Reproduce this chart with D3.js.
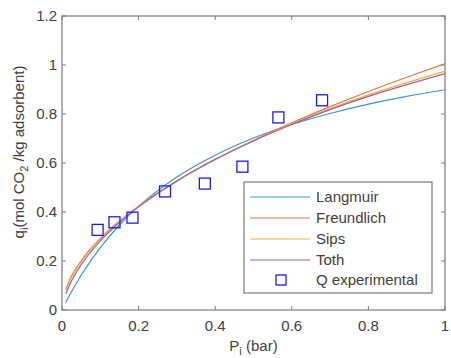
<!DOCTYPE html>
<html>
<head>
<meta charset="utf-8">
<script src="https://cdn.jsdelivr.net/npm/d3@7"></script>
<style>
  body { margin: 0; background: #fff; }
  svg text { font-family: "Liberation Sans", Arial, sans-serif; fill: #404040; }
</style>
</head>
<body>
<div id="chart"></div>
<script>
// values
const pressure = [0.01, 0.02, 0.05, 0.1, 0.15, 0.2, 0.3, 0.4, 0.5, 0.6, 0.7, 0.8, 0.9, 1.0]
const langmuir = [0.031, 0.061, 0.142, 0.255, 0.347, 0.423, 0.543, 0.632, 0.702, 0.757, 0.802, 0.840, 0.872, 0.899]
const freundlich = [0.085, 0.123, 0.201, 0.292, 0.363, 0.424, 0.526, 0.614, 0.693, 0.764, 0.830, 0.892, 0.950, 1.005]
const sips = [0.080, 0.118, 0.197, 0.289, 0.361, 0.423, 0.526, 0.614, 0.691, 0.760, 0.822, 0.878, 0.928, 0.975]
const toth = [0.065, 0.103, 0.185, 0.282, 0.357, 0.421, 0.527, 0.615, 0.690, 0.757, 0.818, 0.872, 0.920, 0.965]

const expP = [0.093, 0.137, 0.184, 0.269, 0.373, 0.471, 0.565, 0.679]
const expQ = [0.327, 0.358, 0.377, 0.484, 0.516, 0.585, 0.786, 0.856]

const xTicks = [0, 0.2, 0.4, 0.6, 0.8, 1]
const yTicks = [0, 0.2, 0.4, 0.6, 0.8, 1, 1.2]

const series = [
  {name: "Langmuir", values: langmuir, color: "#3b95d4"},
  {name: "Freundlich", values: freundlich, color: "#e27550"},
  {name: "Sips", values: sips, color: "#efb12c"},
  {name: "Toth", values: toth, color: "#9a5fae"}
]

const width = 451, height = 358
const margin = {left: 62, right: 6, top: 16, bottom: 48}
const fs = 15

const svg = d3.select("#chart").append("svg").attr("width", width).attr("height", height)

const x = d3.scaleLinear().domain([0, 1]).range([margin.left, width - margin.right])
const y = d3.scaleLinear().domain([0, 1.2]).range([height - margin.bottom, margin.top])

const axisColor = "#7a7a7a"

// box
svg.append("rect")
  .attr("x", x(0)).attr("y", y(1.2))
  .attr("width", x(1) - x(0)).attr("height", y(0) - y(1.2))
  .attr("fill", "none").attr("stroke", axisColor).attr("stroke-width", 1.2)

// ticks on all sides, inward
const tickLen = 4
xTicks.forEach(t => {
  svg.append("line").attr("x1", x(t)).attr("x2", x(t)).attr("y1", y(0)).attr("y2", y(0) - tickLen).attr("stroke", axisColor)
  svg.append("line").attr("x1", x(t)).attr("x2", x(t)).attr("y1", y(1.2)).attr("y2", y(1.2) + tickLen).attr("stroke", axisColor)
  svg.append("text").attr("x", x(t)).attr("y", y(0) + 21)
    .attr("text-anchor", "middle").attr("font-size", fs).text(d3.format("~g")(t))
})
yTicks.forEach(t => {
  svg.append("line").attr("y1", y(t)).attr("y2", y(t)).attr("x1", x(0)).attr("x2", x(0) + tickLen).attr("stroke", axisColor)
  svg.append("line").attr("y1", y(t)).attr("y2", y(t)).attr("x1", x(1)).attr("x2", x(1) - tickLen).attr("stroke", axisColor)
  svg.append("text").attr("x", x(0) - 5).attr("y", y(t) + 5)
    .attr("text-anchor", "end").attr("font-size", fs).text(d3.format("~g")(t))
})

// curves
const line = d3.line()
  .x(d => x(d[0]))
  .y(d => y(d[1]))
  .curve(d3.curveMonotoneX)

series.forEach(s => {
  svg.append("path")
    .datum(pressure.map((p, i) => [p, s.values[i]]))
    .attr("fill", "none")
    .attr("stroke", s.color)
    .attr("stroke-width", 1.2)
    .attr("d", line)
})

// experimental squares
const sq = 11
svg.selectAll(".exp").data(expP.map((p, i) => [p, expQ[i]])).join("rect")
  .attr("x", d => x(d[0]) - sq / 2)
  .attr("y", d => y(d[1]) - sq / 2)
  .attr("width", sq).attr("height", sq)
  .attr("fill", "none").attr("stroke", "#1a1aff").attr("stroke-width", 1.3)

// legend
const lg = svg.append("g")
lg.append("rect").attr("x", 244).attr("y", 182).attr("width", 188).attr("height", 111)
  .attr("fill", "#fff").attr("stroke", axisColor).attr("stroke-width", 1.2)
const rowY = [197, 218, 239, 260]
series.forEach((s, i) => {
  lg.append("line").attr("x1", 250).attr("x2", 310).attr("y1", rowY[i]).attr("y2", rowY[i])
    .attr("stroke", s.color).attr("stroke-width", 1.2)
  lg.append("text").attr("x", 316).attr("y", rowY[i] + 5).attr("font-size", fs).text(s.name)
})
lg.append("rect").attr("x", 281 - 5).attr("y", 280 - 5).attr("width", 10).attr("height", 10)
  .attr("fill", "none").attr("stroke", "#1a1aff").attr("stroke-width", 1.3)
lg.append("text").attr("x", 316).attr("y", 285).attr("font-size", fs).text("Q experimental")

// axis labels
const xl = svg.append("text").attr("x", x(0.5)).attr("y", 351).attr("text-anchor", "middle").attr("font-size", fs)
xl.append("tspan").text("P")
xl.append("tspan").attr("font-size", 11).attr("dy", 4).text("i")
xl.append("tspan").attr("dy", -4).text(" (bar)")

const yl = svg.append("text")
  .attr("transform", "translate(24,152) rotate(-90)")
  .attr("text-anchor", "middle").attr("font-size", fs)
yl.append("tspan").text("q")
yl.append("tspan").attr("font-size", 11).attr("dy", 4).text("i")
yl.append("tspan").attr("dy", -4).text("(mol CO")
yl.append("tspan").attr("font-size", 11).attr("dy", 4).text("2")
yl.append("tspan").attr("dy", -4).text(" /kg adsorbent)")
</script>
</body>
</html>
